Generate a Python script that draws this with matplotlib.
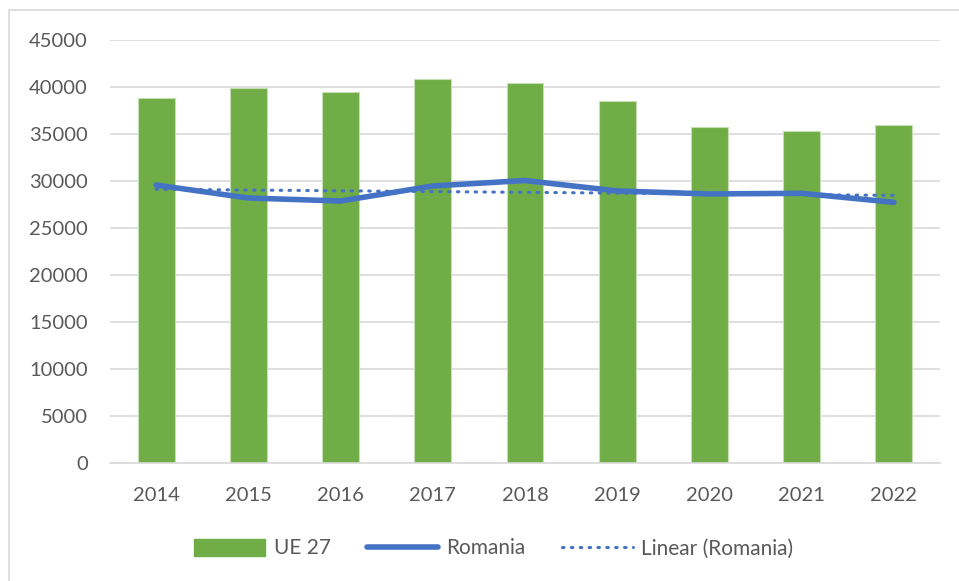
import matplotlib.pyplot as plt
import numpy as np
from matplotlib.lines import Line2D

plt.rcParams['font.family'] = ['Lato', 'DejaVu Sans']

# data
years = ['2014', '2015', '2016', '2017', '2018', '2019', '2020', '2021', '2022']
ue27 = [38830, 39890, 39470, 40800, 40430, 38560, 35740, 35370, 35960]
romania = [29570, 28190, 27870, 29470, 30050, 28940, 28620, 28690, 27730]

green = '#70ad47'
blue = '#4472c4'
grey_txt = '#595959'
dots = (0, (0.5, 2.4))

fig = plt.figure(figsize=(9.59, 5.81), dpi=100)
ax = fig.add_axes([0.1147, 0.2031, 0.8655, 0.7281])

x = np.arange(len(years))
ax.bar(x, ue27, width=0.40, color=green, edgecolor='#c5dfb4', linewidth=0.8,
       label='UE 27', zorder=2)
ax.plot(x, romania, color=blue, linewidth=4, solid_capstyle='round',
        label='Romania', zorder=3)

# linear trendline of the Romania series
coef = np.polyfit(x, romania, 1)
ax.plot(x, np.polyval(coef, x), color=blue, linewidth=2.2, linestyle=dots,
        dash_capstyle='round', label='Linear (Romania)', zorder=3)

ax.set_xlim(-0.5, len(years) - 0.5)
ax.set_ylim(0, 45000)
ax.set_yticks(np.arange(0, 45001, 5000))
ax.set_xticks(x)
ax.set_xticklabels(years)
ax.grid(axis='y', color='#d9d9d9', linewidth=1.2, zorder=0)
ax.set_axisbelow(True)
for s in ['top', 'right', 'left']:
    ax.spines[s].set_visible(False)
ax.spines['bottom'].set_color('#d9d9d9')
ax.spines['bottom'].set_linewidth(1.2)
ax.tick_params(length=0, labelsize=14.5, colors=grey_txt)
ax.tick_params(axis='x', pad=17)
ax.tick_params(axis='y', pad=16)

handles = [
    plt.Rectangle((0, 0), 1, 1, color=green),
    Line2D([], [], color=blue, linewidth=4, solid_capstyle='round'),
    Line2D([], [], color=blue, linewidth=2.2, linestyle=dots, dash_capstyle='round'),
]
leg = fig.legend(handles, ['UE 27', 'Romania', 'Linear (Romania)'], loc='center',
                 bbox_to_anchor=(0.515, 0.056), ncol=3, frameon=False, fontsize=15,
                 handlelength=3.4, handleheight=0.9, columnspacing=1.75, handletextpad=0.4)
for t in leg.get_texts():
    t.set_color(grey_txt)

# outer chart border
fig.add_artist(plt.Rectangle((9 / 959, -0.01), 1.0, 1 - 10 / 581 + 0.01,
                             transform=fig.transFigure, fill=False,
                             edgecolor='#d9d9d9', linewidth=1.2))

fig.savefig('out.png', dpi=100)
